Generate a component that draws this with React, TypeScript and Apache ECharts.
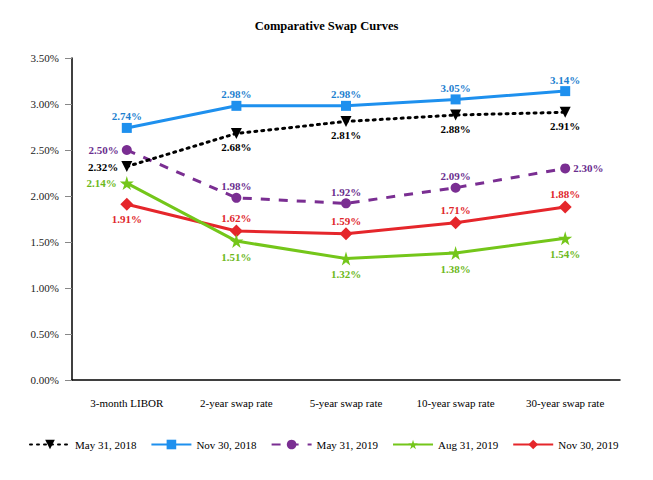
import React, { useEffect, useRef } from "react";
import * as echarts from "echarts";

const categories = ["3-month LIBOR", "2-year swap rate", "5-year swap rate", "10-year swap rate", "30-year swap rate"];
const may2018 = [2.32, 2.68, 2.81, 2.88, 2.91];
const nov2018 = [2.74, 2.98, 2.98, 3.05, 3.14];
const may2019 = [2.5, 1.98, 1.92, 2.09, 2.3];
const aug2019 = [2.14, 1.51, 1.32, 1.38, 1.54];
const nov2019 = [1.91, 1.62, 1.59, 1.71, 1.88];
const seriesNames = ["May 31, 2018", "Nov 30, 2018", "May 31, 2019", "Aug 31, 2019", "Nov 30, 2019"];

const FONT = "Liberation Serif";

function withPositions(values: number[], positions: string[]) {
  return values.map((v, i) => ({
    value: v,
    label: { position: positions[i], distance: positions[i] === "top" ? 1 : 3 },
  }));
}

export default function App() {
  const ref = useRef<HTMLDivElement>(null);
  useEffect(() => {
    if (!ref.current) return;
    const chart = echarts.init(ref.current, null, { renderer: "svg" });
    const lbl = (color: string) => ({
      show: true,
      color,
      fontFamily: FONT,
      fontWeight: "bold" as const,
      fontSize: 11,
      formatter: (p: any) => p.value.toFixed(2) + "%",
    });
    chart.setOption({
      animation: false,
      textStyle: { fontFamily: FONT },
      title: {
        text: "Comparative Swap Curves",
        left: "center",
        top: 14,
        textStyle: { fontFamily: FONT, fontWeight: "bold", fontSize: 12.5, color: "#000" },
      },
      grid: { left: 72, right: 33, top: 58, bottom: 100 },
      legend: {
        bottom: 25,
        left: 24,
        itemWidth: 40,
        itemHeight: 12,
        itemGap: 14,
        textStyle: { fontFamily: FONT, fontSize: 11, color: "#000" },
        data: seriesNames,
      },
      xAxis: {
        type: "category",
        data: categories,
        axisLine: { lineStyle: { color: "#000", width: 1.5 } },
        axisTick: { alignWithLabel: true, length: 5, lineStyle: { color: "#888" } },
        axisLabel: { fontFamily: FONT, fontSize: 11, color: "#000", margin: 17 },
      },
      yAxis: {
        type: "value",
        min: 0,
        max: 3.5,
        interval: 0.5,
        splitLine: { show: false },
        axisLine: { show: true, lineStyle: { color: "#000", width: 1.5 } },
        axisTick: { show: true, inside: false, length: 7, lineStyle: { color: "#888" } },
        axisLabel: {
          fontFamily: FONT,
          fontSize: 11,
          color: "#222",
          margin: 13,
          formatter: (v: number) => v.toFixed(2) + "%",
        },
      },
      series: [
        {
          name: seriesNames[0],
          type: "line",
          data: withPositions(may2018, ["left", "bottom", "bottom", "bottom", "bottom"]),
          color: "#000",
          symbol: "triangle",
          symbolRotate: 180,
          symbolSize: 11,
          lineStyle: { type: [2, 5], width: 3, cap: "round" },
          label: lbl("#000"),
          z: 3,
        },
        {
          name: seriesNames[1],
          type: "line",
          data: withPositions(nov2018, ["top", "top", "top", "top", "top"]),
          color: "#1E90EE",
          symbol: "rect",
          symbolSize: 10,
          lineStyle: { width: 3 },
          label: lbl("#1E7FCF"),
          z: 4,
        },
        {
          name: seriesNames[2],
          type: "line",
          data: withPositions(may2019, ["left", "top", "top", "top", "right"]),
          color: "#7A2E92",
          symbol: "circle",
          symbolSize: 10,
          lineStyle: { type: [9, 9], width: 3 },
          label: lbl("#6A2E8E"),
          z: 2,
        },
        {
          name: seriesNames[3],
          type: "line",
          data: withPositions(aug2019, ["left", "bottom", "bottom", "bottom", "bottom"]),
          color: "#74C61A",
          symbol: "path://M50,0 L61,35 L98,35 L68,57 L79,91 L50,70 L21,91 L32,57 L2,35 L39,35 Z",
          symbolSize: 14,
          lineStyle: { width: 3 },
          label: lbl("#6CB81A"),
          z: 5,
        },
        {
          name: seriesNames[4],
          type: "line",
          data: withPositions(nov2019, ["bottom", "top", "top", "top", "top"]),
          color: "#E5262B",
          symbol: "diamond",
          symbolSize: 13,
          lineStyle: { width: 3 },
          label: lbl("#E0262B"),
          z: 4,
        },
      ],
    });
    return () => chart.dispose();
  }, []);
  return <div ref={ref} style={{ width: 653, height: 480, position: "absolute", left: 0, top: 0 }} />;
}
